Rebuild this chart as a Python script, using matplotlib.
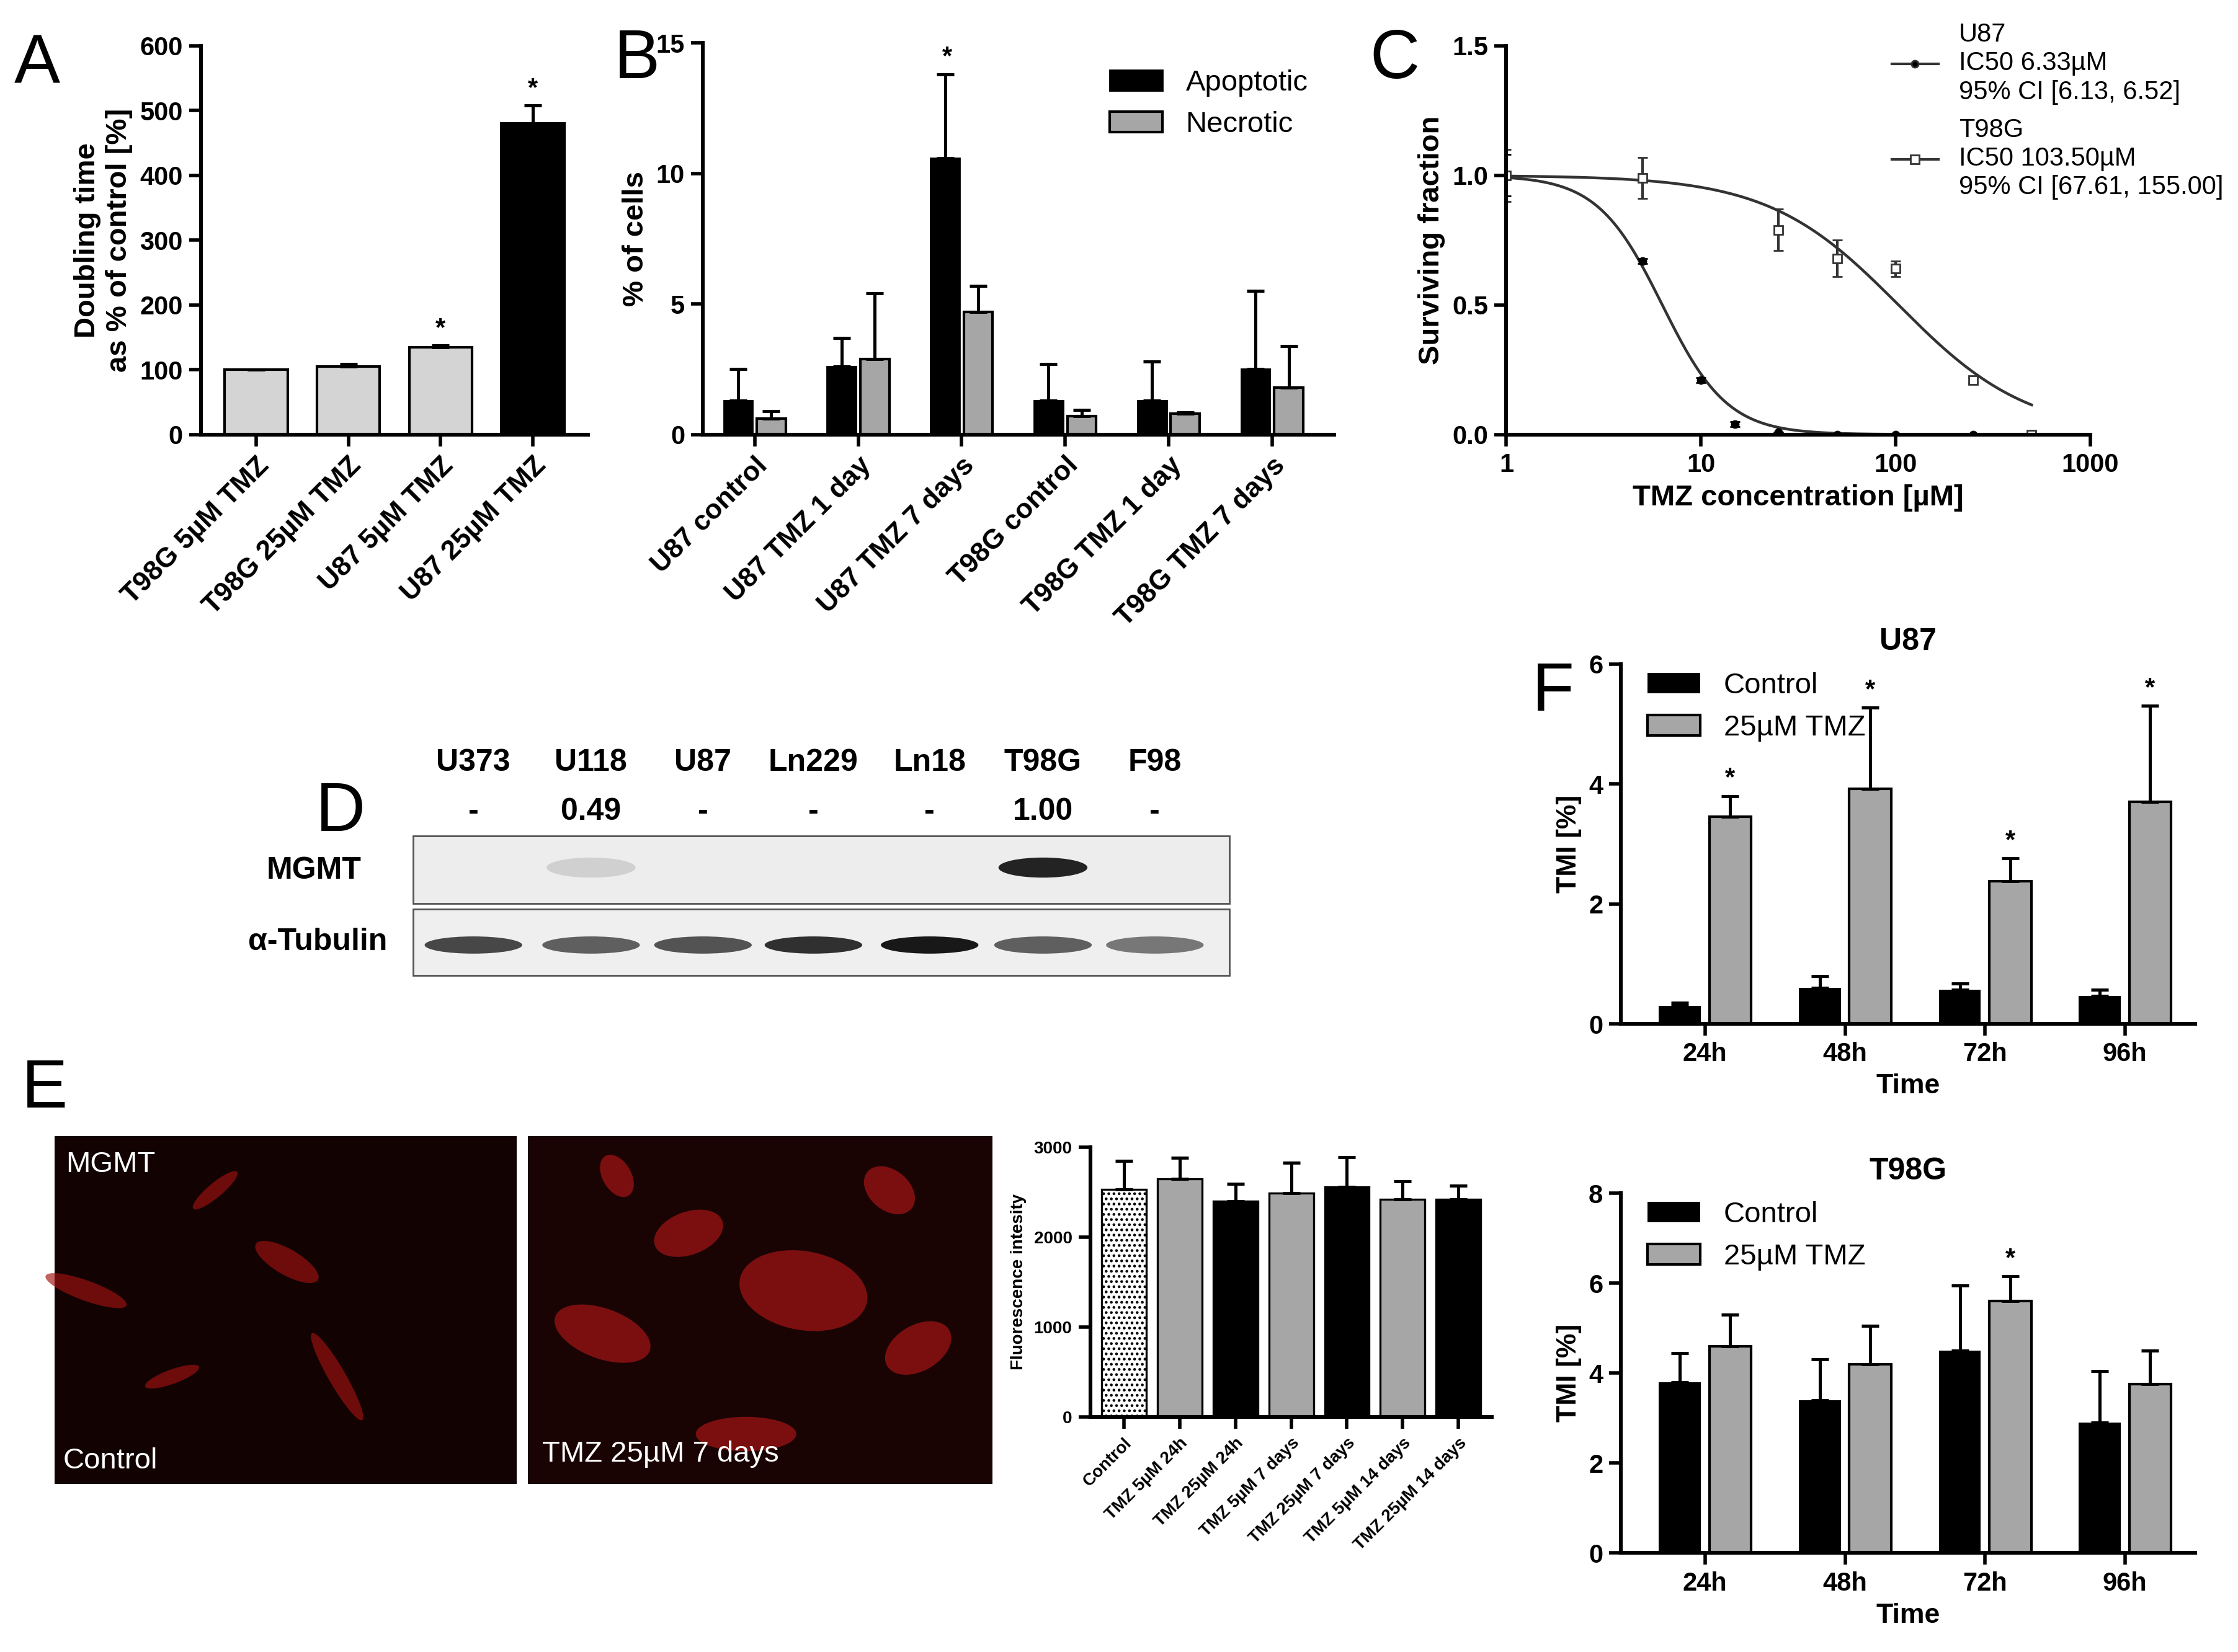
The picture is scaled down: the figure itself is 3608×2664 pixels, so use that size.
import numpy as np
import matplotlib
matplotlib.use("Agg")
import matplotlib.pyplot as plt
from matplotlib.patches import Rectangle, Ellipse
from matplotlib.lines import Line2D

plt.rcParams['font.family'] = ['Liberation Sans', 'DejaVu Sans']
plt.rcParams['font.weight'] = 'bold'
plt.rcParams['axes.linewidth'] = 2.2
plt.rcParams['xtick.major.width'] = 2
plt.rcParams['ytick.major.width'] = 2
plt.rcParams['xtick.major.size'] = 7
plt.rcParams['ytick.major.size'] = 7
plt.rcParams['xtick.labelsize'] = 15
plt.rcParams['ytick.labelsize'] = 15

W, H = 1560, 1152

# ---- data ----
a_labels = ["T98G 5µM TMZ", "T98G 25µM TMZ", "U87 5µM TMZ", "U87 25µM TMZ"]
a_vals = [100, 105, 135, 480]
a_err = [0, 4, 3, 28]

b_labels = ["U87 control", "U87 TMZ 1 day", "U87 TMZ 7 days",
            "T98G control", "T98G TMZ 1 day", "T98G TMZ 7 days"]
b_apo = [1.3, 2.6, 10.6, 1.3, 1.3, 2.5]
b_apo_err = [1.2, 1.1, 3.2, 1.4, 1.5, 3.0]
b_nec = [0.6, 2.9, 4.7, 0.7, 0.8, 1.8]
b_nec_err = [0.3, 2.5, 1.0, 0.25, 0.05, 1.6]

c_u87_x = [1, 5, 10, 15, 25, 50, 100, 250, 500]
c_u87_y = [1.0, 0.67, 0.21, 0.04, 0.01, 0.0, 0.0, 0.0, 0.0]
c_u87_e = [0.08, 0.01, 0.01, 0.01, 0.0, 0.0, 0.0, 0.0, 0.0]
c_t98_x = [1, 5, 25, 50, 100, 250, 500]
c_t98_y = [1.0, 0.99, 0.79, 0.68, 0.64, 0.21, 0.0]
c_t98_e = [0.1, 0.08, 0.08, 0.07, 0.03, 0.01, 0.0]
u87_ic50, u87_hill = 6.33, 2.6
t98_ic50, t98_hill = 103.5, 1.3

d_lanes = ["U373", "U118", "U87", "Ln229", "Ln18", "T98G", "F98"]
d_ratio = ["-", "0.49", "-", "-", "-", "1.00", "-"]
d_mgmt = [0.0, 0.12, 0.0, 0.0, 0.0, 0.85, 0.0]
d_tub = [0.7, 0.6, 0.65, 0.8, 0.9, 0.6, 0.5]

e_labels = ["Control", "TMZ 5µM 24h", "TMZ 25µM 24h", "TMZ 5µM 7 days",
            "TMZ 25µM 7 days", "TMZ 5µM 14 days", "TMZ 25µM 14 days"]
e_vals = [2530, 2650, 2400, 2490, 2560, 2420, 2420]
e_err = [320, 230, 190, 340, 330, 200, 150]

f_times = ["24h", "48h", "72h", "96h"]
f_u87_ctrl = [0.3, 0.6, 0.57, 0.47]
f_u87_ctrl_err = [0.05, 0.2, 0.1, 0.1]
f_u87_tmz = [3.45, 3.92, 2.38, 3.7]
f_u87_tmz_err = [0.35, 1.35, 0.38, 1.6]
f_t98_ctrl = [3.8, 3.4, 4.5, 2.9]
f_t98_ctrl_err = [0.65, 0.9, 1.45, 1.15]
f_t98_tmz = [4.6, 4.2, 5.6, 3.75]
f_t98_tmz_err = [0.7, 0.85, 0.55, 0.75]

LG = "#d4d4d4"
MG = "#a6a6a6"


def box(x0, y0, x1, y1):
    return [x0 / W, 1 - y1 / H, (x1 - x0) / W, (y1 - y0) / H]


def clean(ax):
    ax.spines['top'].set_visible(False)
    ax.spines['right'].set_visible(False)
    for t in ax.get_xticklabels() + ax.get_yticklabels():
        t.set_fontweight('bold')


fig = plt.figure(figsize=(W * 3608 / 1560 / 200, H * 2664 / 1152 / 200), dpi=200)
ekw = dict(ecolor='black', capsize=5, error_kw=dict(elinewidth=1.8, capthick=1.8))

# ---- A ----
ax = fig.add_axes(box(140, 32, 410, 303))
x = np.arange(4)
ax.bar(x, a_vals, 0.68, yerr=[[0] * 4, a_err], color=[LG, LG, LG, 'black'],
       edgecolor='black', linewidth=1.5, **ekw)
ax.set_ylim(0, 600)
ax.set_xlim(-0.6, 3.6)
ax.set_yticks(range(0, 601, 100))
ax.set_xticks(x)
ax.set_xticklabels(a_labels, rotation=45, ha='right', rotation_mode='anchor', fontsize=16)
ax.set_ylabel("Doubling time\nas % of control [%]", fontsize=17, fontweight='bold')
for i in (2, 3):
    ax.text(i, a_vals[i] + a_err[i] + 15, "*", ha='center', fontsize=15)
clean(ax)

# ---- B ----
ax = fig.add_axes(box(490, 30, 930, 303))
x = np.arange(6)
w = 0.28
ax.bar(x - w / 2 - 0.02, b_apo, w, yerr=[[0] * 6, b_apo_err], color='black',
       edgecolor='black', label="Apoptotic", **ekw)
ax.bar(x + w / 2 + 0.02, b_nec, w, yerr=[[0] * 6, b_nec_err], color=MG,
       edgecolor='black', linewidth=1.5, label="Necrotic", **ekw)
ax.set_ylim(0, 15)
ax.set_xlim(-0.5, 5.6)
ax.set_yticks([0, 5, 10, 15])
ax.set_xticks(x)
ax.set_xticklabels(b_labels, rotation=45, ha='right', rotation_mode='anchor', fontsize=16)
ax.set_ylabel("% of cells", fontsize=17, fontweight='bold')
ax.text(2 - w / 2, b_apo[2] + b_apo_err[2] + 0.4, "*", ha='center', fontsize=15)
leg = ax.legend(loc='upper right', frameon=False, fontsize=17, handlelength=1.8,
                bbox_to_anchor=(1.0, 1.0))
for t in leg.get_texts():
    t.set_fontweight('normal')
clean(ax)

# ---- C ----
ax = fig.add_axes(box(1050, 32, 1457, 303))
xs = np.logspace(0, np.log10(500), 200)
ax.plot(xs, 1 / (1 + (xs / u87_ic50) ** u87_hill), color='#333333', lw=1.6)
ax.plot(xs, 1 / (1 + (xs / t98_ic50) ** t98_hill), color='#333333', lw=1.6)
ax.errorbar(c_u87_x, c_u87_y, yerr=c_u87_e, fmt='o', ms=4, color='black', capsize=3)
ax.errorbar(c_t98_x, c_t98_y, yerr=c_t98_e, fmt='s', ms=5, mfc='white', mec='#333333',
            color='#333333', capsize=3)
ax.set_xscale('log')
ax.set_xlim(1, 1000)
ax.set_ylim(0, 1.5)
ax.set_yticks([0, 0.5, 1.0, 1.5])
ax.set_yticklabels(["0.0", "0.5", "1.0", "1.5"])
ax.set_xticks([1, 10, 100, 1000])
ax.set_xticklabels(["1", "10", "100", "1000"])
ax.minorticks_off()
ax.set_xlabel("TMZ concentration [µM]", fontsize=17, fontweight='bold')
ax.set_ylabel("Surviving fraction", fontsize=17, fontweight='bold')
handles = [Line2D([], [], color='#333333', marker='o', ms=4, mfc='black', lw=1.5),
           Line2D([], [], color='#333333', marker='s', ms=5, mfc='white', lw=1.5)]
leg = ax.legend(handles, ["U87\nIC50 6.33µM\n95% CI [6.13, 6.52]",
                          "T98G\nIC50 103.50µM\n95% CI [67.61, 155.00]"],
                loc='upper left', bbox_to_anchor=(0.62, 1.12), frameon=False,
                fontsize=15, handlelength=1.8, labelspacing=0.5)
for t in leg.get_texts():
    t.set_fontweight('normal')
clean(ax)

# ---- E bar ----
ax = fig.add_axes(box(760, 800, 1040, 988))
x = np.arange(7)
cols = ['white', MG, 'black', MG, 'black', MG, 'black']
bars = ax.bar(x, e_vals, 0.8, yerr=[[0] * 7, e_err], color=cols, edgecolor='black',
              linewidth=1.2, **ekw)
bars[0].set_hatch('....')
ax.set_ylim(0, 3000)
ax.set_xlim(-0.6, 6.6)
ax.set_yticks([0, 1000, 2000, 3000])
ax.set_xticks(x)
ax.set_xticklabels(e_labels, rotation=45, ha='right', rotation_mode='anchor', fontsize=10)
ax.tick_params(axis='y', labelsize=10)
ax.set_ylabel("Fluorescence intesity", fontsize=10, fontweight='bold')
clean(ax)


# ---- F ----
def fpanel(rect, ctrl, cerr, tmz, terr, ymax, title, stars):
    ax = fig.add_axes(box(*rect))
    x = np.arange(4)
    w = 0.3
    ax.bar(x - w / 2 - 0.03, ctrl, w, yerr=[[0] * 4, cerr], color='black',
           label="Control", **ekw)
    ax.bar(x + w / 2 + 0.03, tmz, w, yerr=[[0] * 4, terr], color=MG,
           edgecolor='black', linewidth=1.5, label="25µM TMZ", **ekw)
    ax.set_ylim(0, ymax)
    ax.set_yticks(range(0, ymax + 1, 2))
    ax.set_xlim(-0.6, 3.5)
    ax.set_xticks(x)
    ax.set_xticklabels(f_times)
    ax.set_xlabel("Time", fontsize=16, fontweight='bold')
    ax.set_ylabel("TMI [%]", fontsize=16, fontweight='bold')
    ax.set_title(title, fontsize=18, fontweight='bold', pad=8)
    for i in stars:
        ax.text(i + w / 2 + 0.03, tmz[i] + terr[i] + ymax * 0.03, "*", ha='center', fontsize=15)
    leg = ax.legend(loc='upper left', frameon=False, fontsize=17, handlelength=1.8,
                    bbox_to_anchor=(0.0, 1.05))
    for t in leg.get_texts():
        t.set_fontweight('normal')
    clean(ax)


fpanel((1130, 463, 1530, 714), f_u87_ctrl, f_u87_ctrl_err, f_u87_tmz, f_u87_tmz_err,
       6, "U87", [0, 1, 2, 3])
fpanel((1130, 832, 1530, 1083), f_t98_ctrl, f_t98_ctrl_err, f_t98_tmz, f_t98_tmz_err,
       8, "T98G", [2])

# ---- overlay: letters, blot, images ----
ov = fig.add_axes([0, 0, 1, 1], zorder=-1)
ov.set_xlim(0, W)
ov.set_ylim(H, 0)
ov.axis('off')
for letter, (lx, ly) in zip("ABCDEF", [(10, 45), (428, 42), (955, 42), (220, 567), (15, 760), (1068, 483)]):
    ov.text(lx, ly, letter, fontsize=40, fontweight='normal', va='center')

lane_x = [330, 412, 490, 567, 648, 727, 805]
for lx, name, r in zip(lane_x, d_lanes, d_ratio):
    ov.text(lx, 532, name, ha='center', va='center', fontsize=18)
    ov.text(lx, 566, r, ha='center', va='center', fontsize=18)
ov.add_patch(Rectangle((288, 583), 569, 47, fc='#ededed', ec='#555555', lw=1))
ov.add_patch(Rectangle((288, 634), 569, 46, fc='#efefef', ec='#555555', lw=1))
for lx, m, t in zip(lane_x, d_mgmt, d_tub):
    if m > 0:
        ov.add_patch(Ellipse((lx, 605), 62, 14, fc='black', alpha=m, lw=0))
    ov.add_patch(Ellipse((lx, 659), 68, 12, fc='black', alpha=t, lw=0))
ov.text(252, 607, "MGMT", ha='right', va='center', fontsize=18)
ov.text(270, 657, "α-Tubulin", ha='right', va='center', fontsize=18)

# microscopy panels (schematic)
ov.add_patch(Rectangle((38, 792), 322, 243, fc='#120202', ec='none'))
ov.add_patch(Rectangle((368, 792), 324, 243, fc='#1a0303', ec='none'))
cells1 = [(60, 900, 60, 14, 20), (150, 830, 40, 10, -40), (200, 880, 50, 18, 30),
          (235, 960, 70, 12, 60), (120, 960, 40, 10, -20)]
cells2 = [(420, 930, 70, 35, 20), (480, 860, 50, 30, -20), (560, 900, 90, 55, 10),
          (620, 830, 40, 28, 40), (640, 940, 50, 32, -30), (520, 1000, 70, 24, 0),
          (430, 820, 32, 20, 60)]
for cx, cy, w_, h_, a in cells1:
    ov.add_patch(Ellipse((cx, cy), w_, h_, angle=a, fc='#a01010', alpha=0.65, lw=0))
for cx, cy, w_, h_, a in cells2:
    ov.add_patch(Ellipse((cx, cy), w_, h_, angle=a, fc='#a51515', alpha=0.7, lw=0))
ov.text(46, 812, "MGMT", color='white', fontsize=17, fontweight='normal', va='center')
ov.text(44, 1019, "Control", color='white', fontsize=17, fontweight='normal', va='center')
ov.text(378, 1014, "TMZ 25µM 7 days", color='white', fontsize=17, fontweight='normal', va='center')

fig.savefig("out.png", dpi=200)
